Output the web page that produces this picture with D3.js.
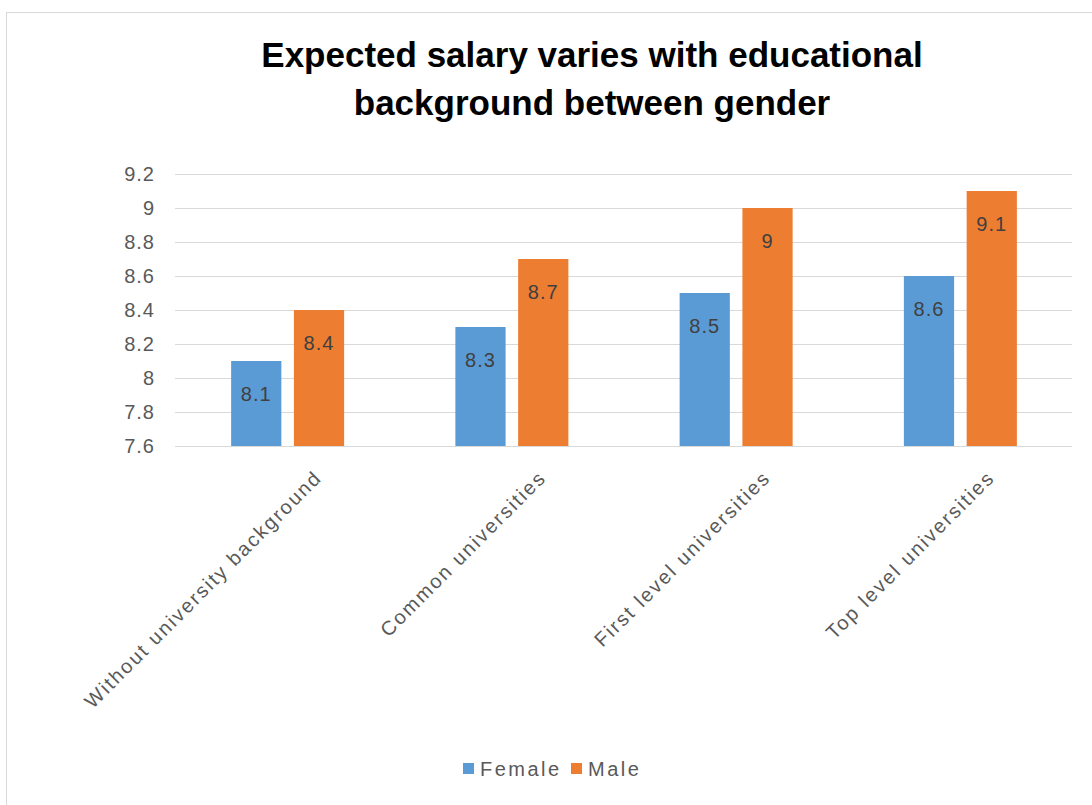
<!DOCTYPE html>
<html>
<head>
<meta charset="utf-8">
<script src="https://cdn.jsdelivr.net/npm/d3@7/dist/d3.min.js"></script>
<style>
  body { margin: 0; background: #fff; }
  text { font-family: "Liberation Sans", Arial, sans-serif; }
</style>
</head>
<body>
<div id="chart"></div>
<script>
// Chart data
var categories = [
  "Without university background",
  "Common universities",
  "First level universities",
  "Top level universities",
];
var seriesNames = ["Female", "Male"];
var femaleValues = [8.1, 8.3, 8.5, 8.6];
var maleValues = [8.4, 8.7, 9.0, 9.1];
var yTicks = [7.6, 7.8, 8, 8.2, 8.4, 8.6, 8.8, 9, 9.2];
var titleLines = ["Expected salary varies with educational", "background between gender"];

var COLORS = { Female: "#5b9bd5", Male: "#ed7d31" };

var width = 1092;
var height = 805;
var margins = { top: 174, right: 20, bottom: 359, left: 175 };
var chartWidth = width - margins.left - margins.right;
var chartHeight = height - margins.top - margins.bottom;

var data = categories.map((c, i) => ({
  key: c,
  values: [
    { label: "Female", value: femaleValues[i] },
    { label: "Male", value: maleValues[i] },
  ],
}));

var svg = d3.select("#chart").append("svg").attr("width", width).attr("height", height);

// Chart area border
svg
  .append("rect")
  .attr("x", 6.5)
  .attr("y", 12.5)
  .attr("width", width + 10)
  .attr("height", height + 10)
  .style("fill", "none")
  .style("stroke", "#d9d9d9");

// Title
svg
  .append("g")
  .selectAll("text")
  .data(titleLines)
  .enter()
  .append("text")
  .attr("x", 592)
  .attr("y", (d, i) => 67 + i * 48)
  .attr("text-anchor", "middle")
  .style("font-size", "35px")
  .style("font-weight", 700)
  .style("fill", "#000")
  .text((d) => d);

var chartElement = svg.append("g").attr("transform", `translate(${margins.left},${margins.top})`);

var xScale = d3.scaleBand().domain(categories).range([0, chartWidth]);
var xInner = d3.scaleBand().domain(seriesNames).range([0, 113]).paddingInner(0.2);
var yScale = d3.scaleLinear().domain([7.6, 9.2]).range([chartHeight, 0]);

// Grid
var yAxis = d3.axisLeft(yScale).tickValues(yTicks).tickSize(-chartWidth).tickFormat(d3.format("~g"));
var yAxisG = chartElement.append("g").attr("class", "y axis").call(yAxis);
yAxisG.select(".domain").remove();
yAxisG.selectAll("line").style("stroke", "#d9d9d9");
yAxisG
  .selectAll("text")
  .attr("x", -20)
  .style("font-size", "20px")
  .style("letter-spacing", "1px")
  .style("fill", "#595959")
  .style("font-family", '"Liberation Sans", Arial, sans-serif');

// Bars
var barGroups = chartElement
  .selectAll(".bars")
  .data(data)
  .enter()
  .append("g")
  .attr("class", "bars")
  .attr("transform", (d) => `translate(${xScale(d.key) + xScale.bandwidth() / 2 - 56},0)`);

barGroups
  .selectAll("rect")
  .data((d) => d.values)
  .enter()
  .append("rect")
  .attr("x", (d) => xInner(d.label))
  .attr("y", (d) => yScale(d.value))
  .attr("width", xInner.bandwidth())
  .attr("height", (d) => chartHeight - yScale(d.value))
  .style("fill", (d) => COLORS[d.label]);

// Bar values
barGroups
  .selectAll(".value")
  .data((d) => d.values)
  .enter()
  .append("text")
  .attr("class", "value")
  .attr("x", (d) => xInner(d.label) + xInner.bandwidth() / 2)
  .attr("y", (d) => yScale(d.value) + 40)
  .attr("text-anchor", "middle")
  .style("font-size", "20px")
  .style("letter-spacing", "1px")
  .style("fill", "#404040")
  .text((d) => d3.format("~g")(d.value));

// Category labels
chartElement
  .append("g")
  .attr("class", "x labels")
  .selectAll("text")
  .data(categories)
  .enter()
  .append("text")
  .attr("transform", (d) => `translate(${xScale(d) + xScale.bandwidth() / 2 + 36},${chartHeight + 33}) rotate(-45)`)
  .attr("text-anchor", "end")
  .style("font-size", "20px")
  .style("letter-spacing", "2px")
  .style("fill", "#595959")
  .text((d) => d);

// Legend
var legend = svg
  .append("g")
  .attr("class", "legend")
  .selectAll("g")
  .data(seriesNames)
  .enter()
  .append("g")
  .attr("transform", (d, i) => `translate(${i ? 571 : 463},763)`);

legend
  .append("rect")
  .attr("width", 11)
  .attr("height", 11)
  .style("fill", (d) => COLORS[d]);

legend
  .append("text")
  .attr("x", 17)
  .attr("y", 13)
  .style("font-size", "20px")
  .style("letter-spacing", "2.5px")
  .style("fill", "#595959")
  .text((d) => d);
</script>
</body>
</html>
